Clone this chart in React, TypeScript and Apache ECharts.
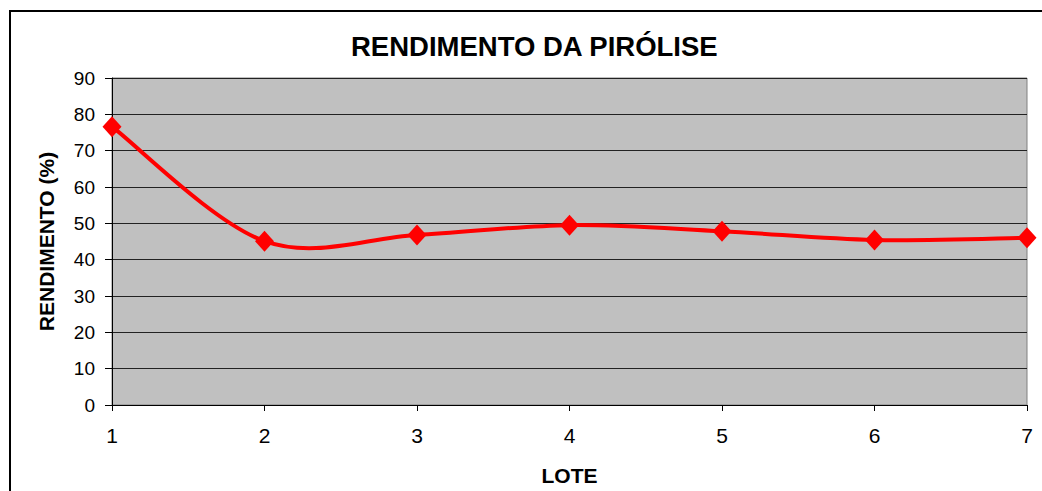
import React, { useEffect, useRef } from "react";
import * as echarts from "echarts";

const categories = ["1", "2", "3", "4", "5", "6", "7"];
const rendimento = [76.6, 45.1, 46.8, 49.5, 47.8, 45.4, 46.0];
const yMin = 0;
const yMax = 90;
const yInterval = 10;

const FONT = "Liberation Sans, Arial, sans-serif";

export default function App() {
  const ref = useRef<HTMLDivElement>(null);
  useEffect(() => {
    if (!ref.current) return;
    const chart = echarts.init(ref.current, undefined, { renderer: "svg" });
    const renderSmooth = (params: any, api: any) => {
      if (params.dataIndex !== 0) return null;
      const pts = rendimento.map((v, i) => api.coord([i, v]));
      const n = pts.length;
      let d = `M${pts[0][0]},${pts[0][1]}`;
      for (let i = 0; i < n - 1; i++) {
        const p0 = pts[Math.max(0, i - 1)];
        const p1 = pts[i];
        const p2 = pts[i + 1];
        const p3 = pts[Math.min(n - 1, i + 2)];
        const c1x = p1[0] + (p2[0] - p0[0]) / 6;
        const c1y = p1[1] + (p2[1] - p0[1]) / 6;
        const c2x = p2[0] - (p3[0] - p1[0]) / 6;
        const c2y = p2[1] - (p3[1] - p1[1]) / 6;
        d += ` C${c1x},${c1y} ${c2x},${c2y} ${p2[0]},${p2[1]}`;
      }
      return {
        type: "path",
        shape: { pathData: d },
        style: { fill: "none", stroke: "#FF0000", lineWidth: 4, lineJoin: "round", lineCap: "round" },
      };
    };
    chart.setOption({
      animation: false,
      backgroundColor: "#fff",
      title: {
        text: "RENDIMENTO DA PIRÓLISE",
        left: 346,
        top: 27,
        textStyle: { fontFamily: FONT, fontSize: 27.5, fontWeight: "bold", color: "#000" },
      },
      grid: {
        left: 112,
        top: 78,
        right: 15,
        bottom: 85,
        show: true,
        backgroundColor: "#C0C0C0",
        borderColor: "#808080",
        borderWidth: 1,
      },
      xAxis: {
        type: "category",
        data: categories,
        boundaryGap: false,
        name: "LOTE",
        nameLocation: "middle",
        nameGap: 60,
        nameTextStyle: { fontFamily: FONT, fontSize: 21, fontWeight: "bold", color: "#000" },
        axisLine: { show: true, lineStyle: { color: "#000", width: 1 } },
        axisTick: { show: true, inside: false, length: 6, alignWithLabel: true, lineStyle: { color: "#000" } },
        axisLabel: { fontFamily: FONT, fontSize: 21, color: "#000", margin: 20 },
        splitLine: { show: false },
      },
      yAxis: {
        type: "value",
        min: yMin,
        max: yMax,
        interval: yInterval,
        name: "RENDIMENTO (%)",
        nameLocation: "middle",
        nameGap: 55,
        nameRotate: 90,
        nameTextStyle: { fontFamily: FONT, fontSize: 21, fontWeight: "bold", color: "#000" },
        axisLine: { show: true, lineStyle: { color: "#000", width: 1 } },
        axisTick: { show: true, inside: false, length: 7, lineStyle: { color: "#000" } },
        axisLabel: { fontFamily: FONT, fontSize: 19, color: "#000", margin: 17 },
        splitLine: { show: true, lineStyle: { color: "#222", width: 1 } },
      },
      series: [
        {
          type: "custom",
          data: [[0, rendimento[0]]],
          renderItem: renderSmooth,
          clip: false,
          z: 2,
        },
        {
          type: "scatter",
          data: rendimento,
          symbol: "diamond",
          symbolSize: [19, 21],
          itemStyle: { color: "#FF0000", opacity: 1 },
          z: 3,
        },
      ],
      graphic: [
        {
          type: "rect",
          shape: { x: 10, y: 11, width: 1200, height: 700 },
          style: { fill: "none", stroke: "#000", lineWidth: 2 },
          silent: true,
          z: 100,
        },
      ],
    });
    return () => chart.dispose();
  }, []);
  return (
    <div
      ref={ref}
      style={{ position: "fixed", left: 0, top: 0, width: 1042, height: 491 }}
    />
  );
}
